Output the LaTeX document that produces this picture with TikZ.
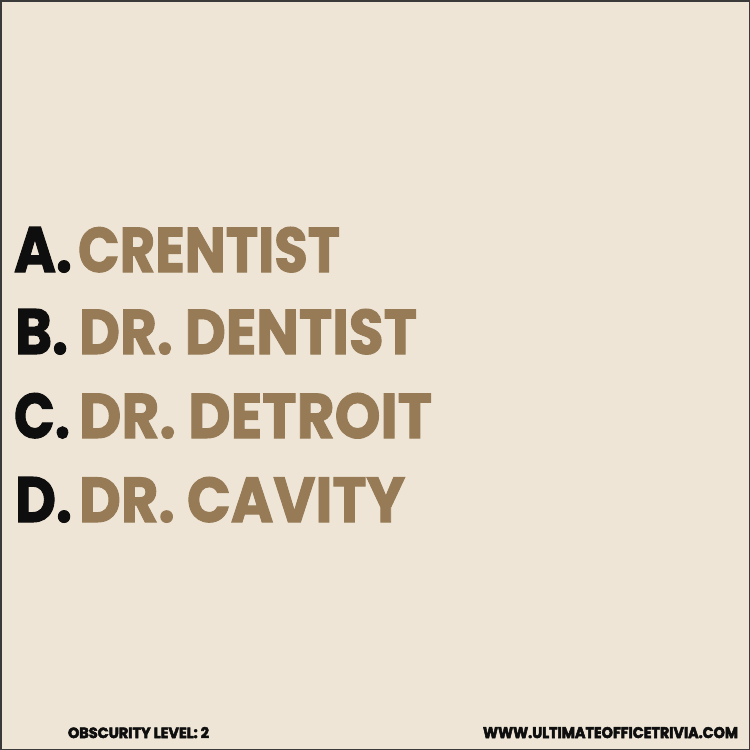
\documentclass[tikz,border=0pt]{standalone}
\usepackage{fontspec}
\setmainfont{Poppins}[BoldFeatures={FakeBold=1.6}]
\newfontfamily\footfont{Poppins}[BoldFeatures={FakeBold=3.5}]
\usepackage{graphicx}
\definecolor{bgbeige}{HTML}{EFE5D6}
\definecolor{ansbrown}{HTML}{977B57}
\definecolor{inkblack}{HTML}{0E0E0E}
\definecolor{framegray}{HTML}{3A3A3A}
\tikzset{
  txt/.style={anchor=base west, inner sep=0pt, outer sep=0pt},
  letter/.style={txt, text=inkblack},
  answer/.style={txt, text=ansbrown},
  foot/.style={txt, text=inkblack, font=\footfont}
}
\newcommand{\fitt}[3]{\resizebox{#1pt}{#2pt}{\bfseries #3}}
\begin{document}
\begin{tikzpicture}[x=1pt,y=-1pt]
\fill[bgbeige] (0,0) rectangle (750,750);
\useasboundingbox (0,0) rectangle (750,750);
\draw[framegray, line width=1.5pt] (0.75,0.75) rectangle (749.25,749.25);
% letters
\node[letter] (la) at (14,272) {\fitt{58}{45}{A.}};
\node[letter] (lb) at (15,354) {\fitt{53}{45}{B.}};
\node[letter] (lc) at (14,438) {\fitt{56}{45}{C.}};
\node[letter] (ld) at (15,522) {\fitt{57}{45}{D.}};
% answers
\node[answer] (aa) at (78,272) {\fitt{262}{45}{CRENTIST}};
\node[answer] (ab) at (79,354) {\fitt{338}{45}{DR. DENTIST}};
\node[answer] (ac) at (79,438) {\fitt{353}{45}{DR. DETROIT}};
\node[answer] (ad) at (79,522) {\fitt{326}{45}{DR. CAVITY}};
% footer
\node[foot] (fl) at (68,738) {\fitt{141}{11}{OBSCURITY LEVEL: 2}};
\node[foot] (fr) at (483,738) {\fitt{255}{11}{WWW.ULTIMATEOFFICETRIVIA.COM}};
\end{tikzpicture}
\end{document}
